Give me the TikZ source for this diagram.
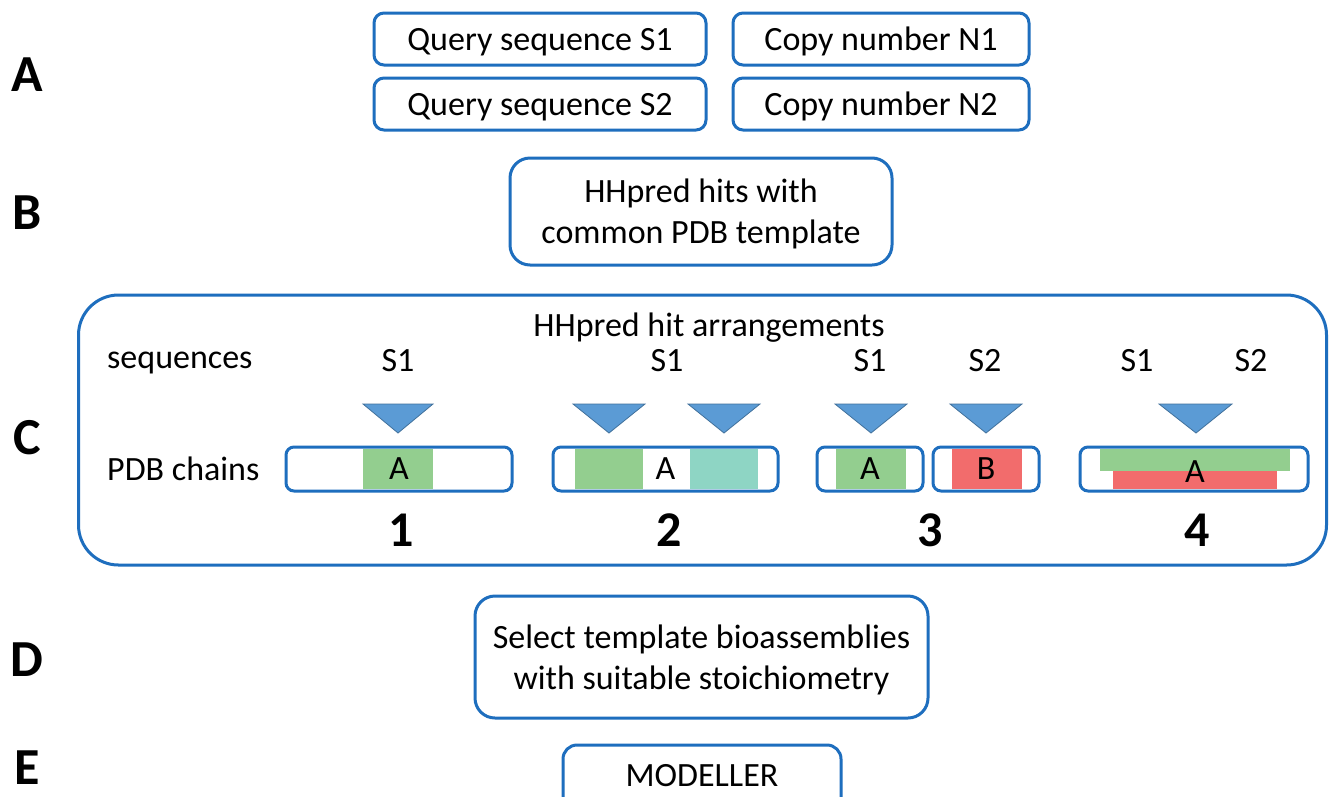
\documentclass[tikz,border=0pt]{standalone}
\usepackage{fontspec}
\setmainfont{Carlito}
\definecolor{bblue}{RGB}{30,110,190}
\definecolor{tri}{RGB}{91,155,213}
\definecolor{triedge}{RGB}{65,113,156}
\definecolor{cgreen}{RGB}{147,206,143}
\definecolor{cteal}{RGB}{142,213,196}
\definecolor{cred}{RGB}{242,108,108}
\tikzset{
  txt/.style={font=\fontsize{34}{41}\selectfont, inner sep=0pt, align=center, text depth=0pt},
  lbl/.style={font=\fontsize{52}{60}\selectfont\bfseries, inner sep=0pt, text depth=0pt},
  num/.style={font=\fontsize{50}{60}\selectfont\bfseries, inner sep=0pt},
  bx/.style={draw=bblue, line width=3pt, rounded corners=10pt, fill=white, inner sep=0pt, font=\fontsize{34}{41}\selectfont, align=center, text depth=0pt},
  chain/.style={draw=bblue, line width=3pt, rounded corners=8pt, inner sep=0pt, minimum height=44pt, font=\fontsize{34}{41}\selectfont},
  trif/.style={fill=tri, draw=triedge, line width=0.8pt, line join=miter},
}
\begin{document}
\begin{tikzpicture}[x=1pt,y=-1pt]
\clip (0,0) rectangle (1329,796);
\fill[white] (0,0) rectangle (1329,796);

% side labels
\node[lbl] (lA) at (27,75) {A};
\node[lbl] (lB) at (27,213) {B};
\node[lbl] (lC) at (27,437) {C};
\node[lbl] (lD) at (27,660) {D};
\node[lbl] (lE) at (27,768) {E};

% A
\node[bx, minimum width=332pt, minimum height=52pt] (q1) at (540,39) {Query sequence S1};
\node[bx, minimum width=296pt, minimum height=52pt] (n1) at (881,39) {Copy number N1};
\node[bx, minimum width=332pt, minimum height=52pt] (q2) at (540,104) {Query sequence S2};
\node[bx, minimum width=296pt, minimum height=52pt] (n2) at (881,104) {Copy number N2};

% B
\node[bx, rounded corners=20pt, minimum width=382pt, minimum height=107pt] (hh) at (701,211.5) {HHpred hits with\\common PDB template};

% C big box
\node[draw=bblue, line width=3pt, rounded corners=40pt, fill=white, minimum width=1248pt, minimum height=270pt, inner sep=0pt] (cbox) at (702.5,430) {};
\node[txt] (ctitle) at (709,325) {HHpred hit arrangements};
\node[txt, anchor=west] (seqs) at (107,360) {sequences};
\node[txt, anchor=west] (pdbc) at (107,469) {PDB chains};

% sequence labels
\node[txt] (s11) at (398,360) {S1};
\node[txt] (s12) at (667,360) {S1};
\node[txt] (s13) at (870,360) {S1};
\node[txt] (s23) at (985,360) {S2};
\node[txt] (s14) at (1137,360) {S1};
\node[txt] (s24) at (1251,360) {S2};

% triangles
\filldraw[trif] (363,404) -- (433,404) -- (398,433) -- cycle;
\filldraw[trif] (573,404) -- (645,404) -- (609,433) -- cycle;
\filldraw[trif] (688,404) -- (760,404) -- (724,433) -- cycle;
\filldraw[trif] (835,404) -- (907,404) -- (871,433) -- cycle;
\filldraw[trif] (950,404) -- (1022,404) -- (986,433) -- cycle;
\filldraw[trif] (1159,404) -- (1232,404) -- (1196,433) -- cycle;

% colored segments
\fill[cgreen] (363,449) rectangle (433,489);
\fill[cgreen] (575,449) rectangle (643,489);
\fill[cteal] (690,449) rectangle (758,489);
\fill[cgreen] (836,449) rectangle (906,489);
\fill[cred] (952,449) rectangle (1022,489);
\fill[cgreen] (1100,449) rectangle (1290,471);
\fill[cred] (1113,471) rectangle (1277,489);

% chains
\node[chain, minimum width=226pt] (ch1) at (399,469) {A};
\node[chain, minimum width=225pt] (ch2) at (665.5,469) {A};
\node[chain, minimum width=106pt] (ch3a) at (870,469) {A};
\node[chain, minimum width=106pt] (ch3b) at (986,469) {B};
\node[chain, minimum width=228pt] (ch4) at (1194,469) {};
\node[txt] (ch4t) at (1195,472) {A};

% numbers
\node[num] (k1) at (401,530) {1};
\node[num] (k2) at (669,530) {2};
\node[num] (k3) at (930,530) {3};
\node[num] (k4) at (1197,530) {4};

% D
\node[bx, rounded corners=20pt, minimum width=453pt, minimum height=122pt] (sel) at (701.5,657) {Select template bioassemblies\\with suitable stoichiometry};

% E
\node[bx, rounded corners=14pt, minimum width=278pt, minimum height=70pt] (mod) at (702,780) {};
\node[txt] (modt) at (702,775) {MODELLER};
\end{tikzpicture}
\end{document}
